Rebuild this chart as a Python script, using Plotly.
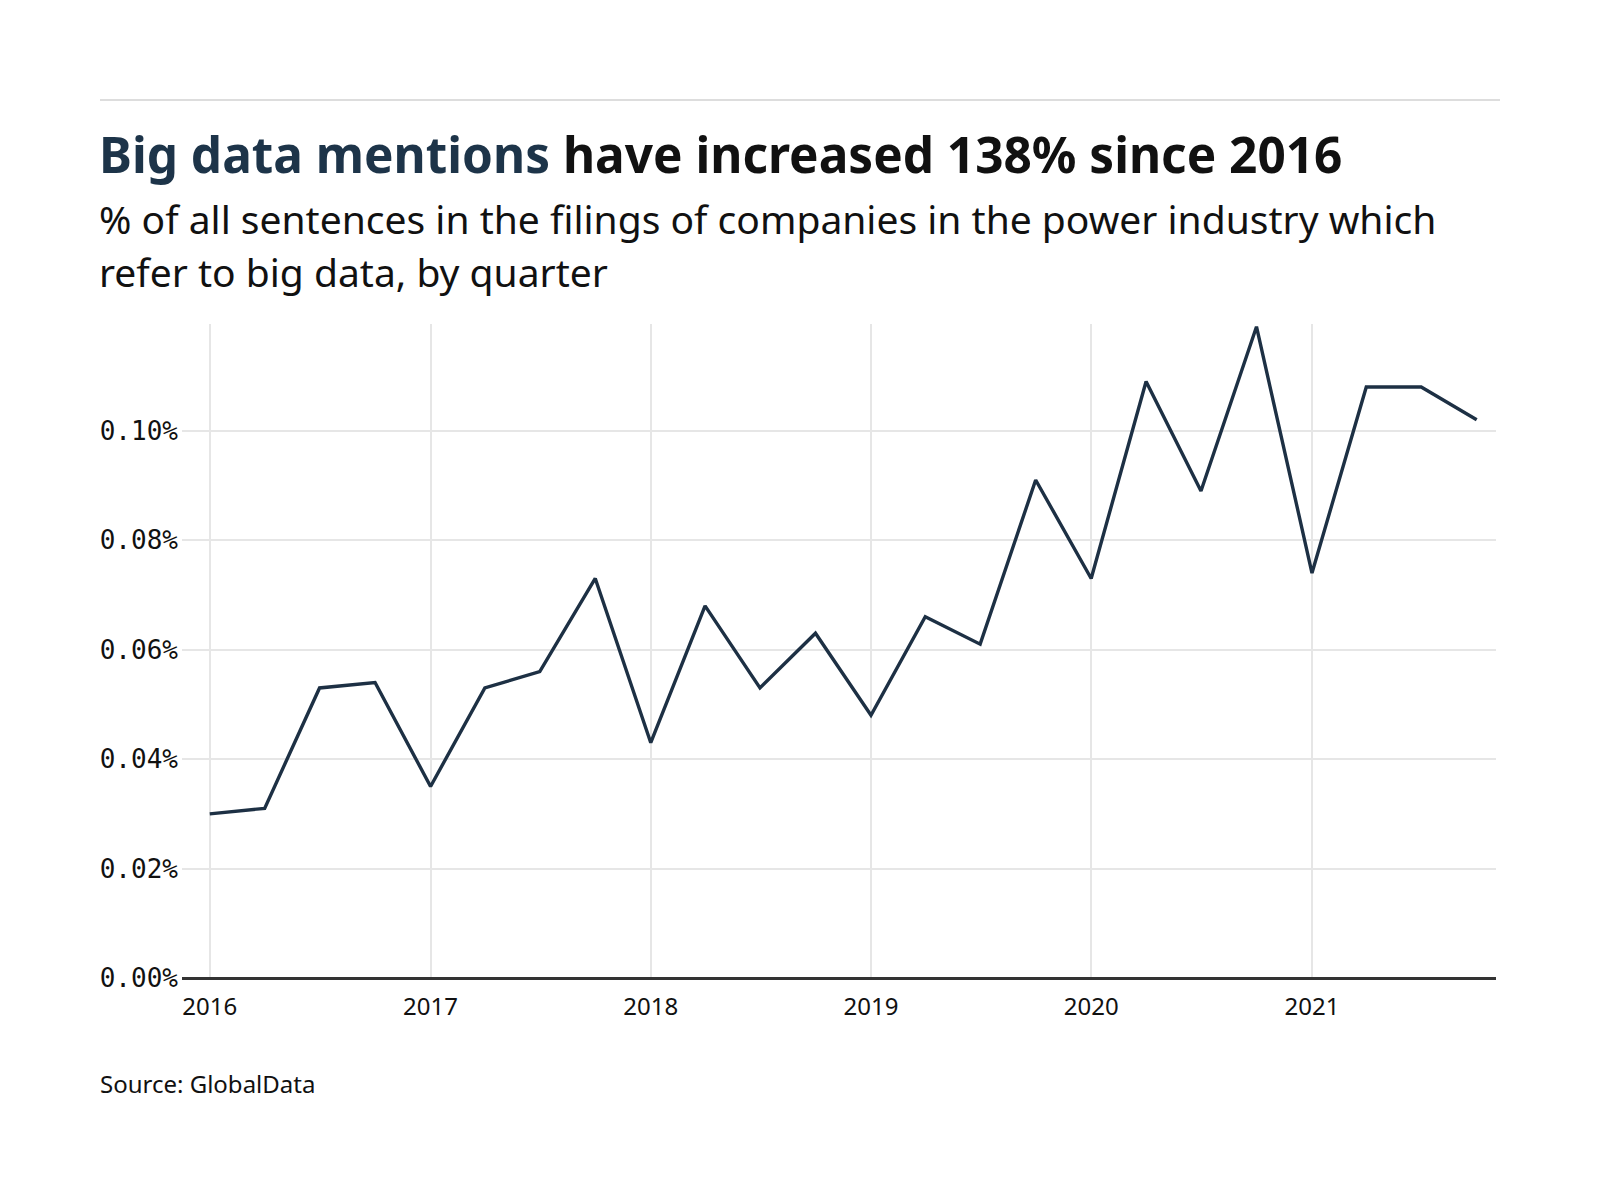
import plotly.graph_objects as go

quarters = [
    "2016-01-01", "2016-04-01", "2016-07-01", "2016-10-01",
    "2017-01-01", "2017-04-01", "2017-07-01", "2017-10-01",
    "2018-01-01", "2018-04-01", "2018-07-01", "2018-10-01",
    "2019-01-01", "2019-04-01", "2019-07-01", "2019-10-01",
    "2020-01-01", "2020-04-01", "2020-07-01", "2020-10-01",
    "2021-01-01", "2021-04-01", "2021-07-01", "2021-10-01",
]
share = [
    0.030, 0.031, 0.053, 0.054,
    0.035, 0.053, 0.056, 0.073,
    0.043, 0.068, 0.053, 0.063,
    0.048, 0.066, 0.061, 0.091,
    0.073, 0.109, 0.089, 0.119,
    0.074, 0.108, 0.108, 0.102,
]
year_ticks = ["2016-01-01", "2017-01-01", "2018-01-01", "2019-01-01", "2020-01-01", "2021-01-01"]
year_labels = ["2016", "2017", "2018", "2019", "2020", "2021"]
y_ticks = [0, 0.02, 0.04, 0.06, 0.08, 0.10]
y_labels = ["0.00%", "0.02%", "0.04%", "0.06%", "0.08%", "0.10%"]

navy = "#1d3044"

# figure is 1584x1184 (page body adds 8px margin); plot area in figure pixels
FW, FH = 1584, 1184
L, R, T, B = 174, 1488, 316, 970
W, H = R - L, B - T


def px(x):
    return (x - L) / W


def py(y):
    return (B - y) / H


fig = go.Figure()
fig.add_trace(go.Scatter(x=quarters, y=share, mode="lines",
                         line=dict(color=navy, width=3.4), hoverinfo="x+y"))

fig.add_shape(type="line", xref="paper", yref="paper",
              x0=px(92), x1=px(1492), y0=py(92), y1=py(92),
              line=dict(color="#dddddd", width=2))

fig.add_annotation(
    xref="paper", yref="paper", x=px(89), y=py(146), xanchor="left", yanchor="middle",
    text="<b><span style='color:#1d3449'>Big data mentions</span> have increased 138% since 2016</b>",
    showarrow=False, font=dict(family="Noto Sans", size=49.5, color="#111111"))
fig.add_annotation(
    xref="paper", yref="paper", x=px(89), y=py(211), xanchor="left", yanchor="middle",
    text="% of all sentences in the filings of companies in the power industry which",
    showarrow=False, font=dict(family="Noto Sans", size=39, color="#111111"))
fig.add_annotation(
    xref="paper", yref="paper", x=px(89), y=py(263), xanchor="left", yanchor="middle",
    text="refer to big data, by quarter",
    showarrow=False, font=dict(family="Noto Sans", size=39, color="#111111"))
fig.add_annotation(
    xref="paper", yref="paper", x=px(90), y=py(1075), xanchor="left", yanchor="middle",
    text="Source: GlobalData",
    showarrow=False, font=dict(family="Noto Sans", size=24, color="#111111"))

fig.update_layout(
    width=FW, height=FH,
    margin=dict(l=L, r=FW - R, t=T, b=FH - B),
    paper_bgcolor="white", plot_bgcolor="white",
    showlegend=False,
    xaxis=dict(type="date", range=["2015-11-16", "2021-11-02"],
               tickvals=year_ticks, ticktext=year_labels,
               showgrid=True, gridcolor="#e6e6e6", gridwidth=2,
               showline=False, zeroline=False, ticks="", ticklabelstandoff=12,
               tickfont=dict(family="Noto Sans", size=24, color="#111111")),
    yaxis=dict(range=[0, 0.1195], tickvals=y_ticks, ticktext=y_labels,
               showgrid=True, gridcolor="#e6e6e6", gridwidth=2,
               zeroline=True, zerolinecolor="#333333", zerolinewidth=2.5,
               ticks="", ticklabelstandoff=3,
               tickfont=dict(family="DejaVu Sans Mono", size=26, color="#111111")),
)

fig.write_html("out.html")
